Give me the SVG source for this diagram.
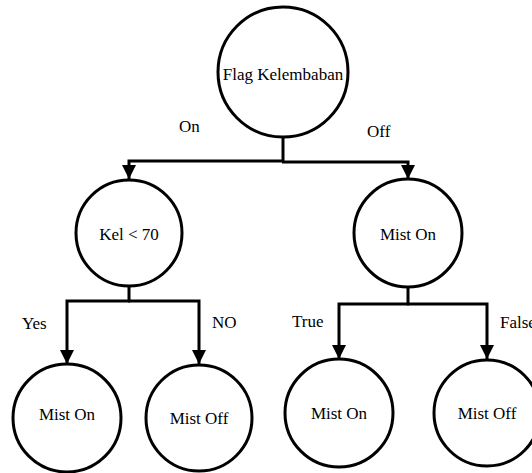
<svg xmlns="http://www.w3.org/2000/svg" width="532" height="473" viewBox="0 0 532 473">
<style>
.n{fill:#fff;stroke:#000;stroke-width:3}
.t{font-size:17px;fill:#000;text-anchor:middle}
.l{font-size:17px;fill:#000}
.c{fill:none;stroke:#000;stroke-width:3}
</style>
<defs>
<marker id="ah" markerUnits="userSpaceOnUse" markerWidth="16" markerHeight="16" viewBox="0 0 16 16" refX="15" refY="8" orient="auto">
<path d="M1,1 L15,8 L1,15 Z" fill="#000"/>
</marker>
</defs>
<rect width="532" height="473" fill="#fff"/>
<g id="connectors">
<path class="c" d="M283,137 V161"/>
<path class="c" d="M284,161 H129 V179" marker-end="url(#ah)"/>
<path class="c" d="M282,162 H408 V179" marker-end="url(#ah)"/>
<path class="c" d="M129,286 V301"/>
<path class="c" d="M130,301 H67 V364" marker-end="url(#ah)"/>
<path class="c" d="M128,301 H199 V364" marker-end="url(#ah)"/>
<path class="c" d="M408,287 V304"/>
<path class="c" d="M409,304 H339 V359" marker-end="url(#ah)"/>
<path class="c" d="M407,304 H487 V359" marker-end="url(#ah)"/>
</g>
<g id="labels" font-family="'Liberation Serif', 'Times New Roman', serif">
<text class="l" x="179" y="132">On</text>
<text class="l" x="367" y="137">Off</text>
<text class="l" x="22" y="329">Yes</text>
<text class="l" x="212" y="328">NO</text>
<text class="l" x="292" y="327">True</text>
<text class="l" x="500" y="328">False</text>
</g>
<g font-family="'Liberation Serif', 'Times New Roman', serif">
<g id="node-flag">
<circle class="n" cx="283" cy="72" r="65"/>
<text class="t" x="283" y="80">Flag Kelembaban</text>
</g>
<g id="node-kel">
<circle class="n" cx="129" cy="233" r="53"/>
<text class="t" x="129" y="240">Kel &lt; 70</text>
</g>
<g id="node-mist-on-1">
<circle class="n" cx="408" cy="233" r="54"/>
<text class="t" x="408" y="240">Mist On</text>
</g>
<g id="node-mist-on-2">
<circle class="n" cx="67" cy="418" r="54"/>
<text class="t" x="67" y="420">Mist On</text>
</g>
<g id="node-mist-off-1">
<circle class="n" cx="199" cy="418" r="53"/>
<text class="t" x="199" y="424">Mist Off</text>
</g>
<g id="node-mist-on-3">
<circle class="n" cx="339" cy="413" r="54"/>
<text class="t" x="339" y="419">Mist On</text>
</g>
<g id="node-mist-off-2">
<circle class="n" cx="487" cy="413" r="53"/>
<text class="t" x="487" y="419">Mist Off</text>
</g>
</g>
</svg>
